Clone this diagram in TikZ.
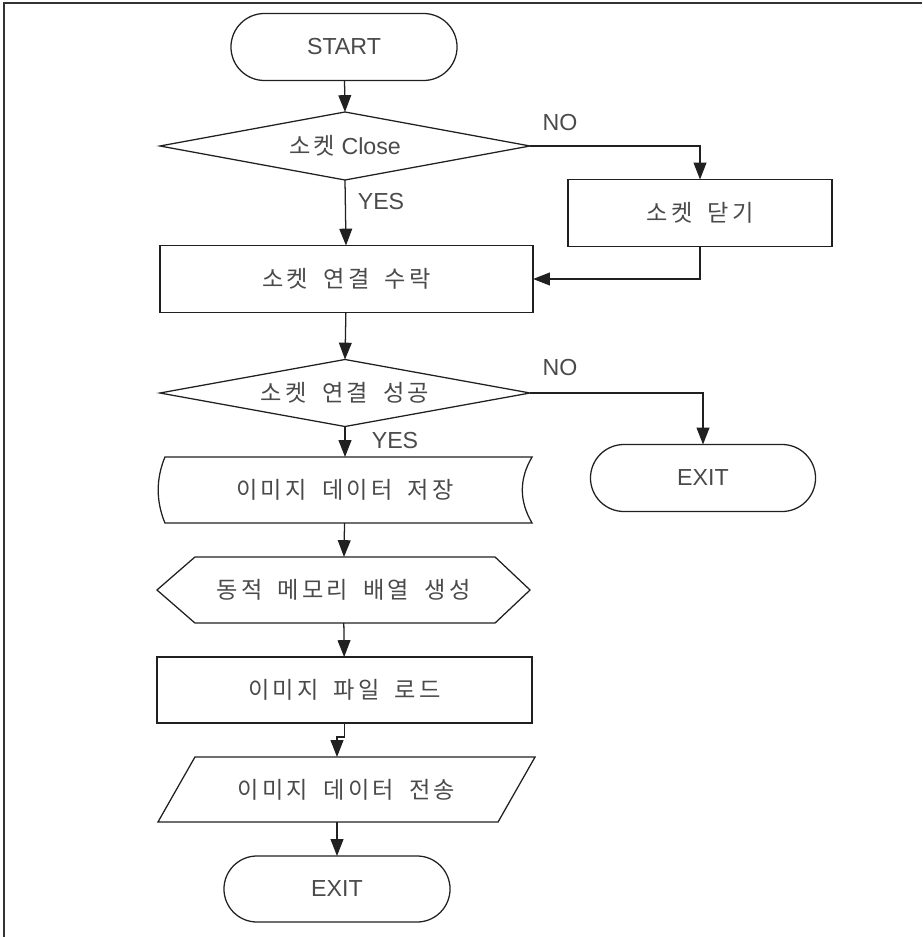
\documentclass[tikz,border=0pt]{standalone}
\usepackage{fontspec}
\setmainfont{Liberation Sans}
\newfontfamily\kr[LetterSpace=14,WordSpace=1.8]{Noto Sans CJK KR}
\usetikzlibrary{arrows.meta,shapes.misc,calc}
\definecolor{txt}{HTML}{4A4A4A}
\definecolor{edge}{HTML}{202020}
\tikzset{
  base/.style={inner sep=0pt, outer sep=0pt, text=txt,
    font=\fontsize{16.5}{20}\selectfont, line width=0.9pt, draw=edge},
  terminal/.style={base, rounded rectangle, minimum width=5.65cm, minimum height=1.675cm},
  process/.style={base, rectangle, minimum height=1.675cm},
  outline/.style={base, rectangle, draw=none},
  frame/.style={line width=1.1pt, draw=black!80},
  lbl/.style={text=txt, font=\fontsize{16.5}{20}\selectfont, inner sep=0pt},
  arr/.style={line width=0.9pt, draw=edge, -{Triangle[length=0.42cm,width=0.32cm]}},
  ln/.style={line width=0.9pt, draw=edge}
}
\begin{document}
\begin{tikzpicture}[x=0.025cm,y=-0.025cm]
\useasboundingbox (0,0) rectangle (922,937);
% page frame (left and top edges)
\draw[frame] (4,937) -- (4,3) -- (922,3);

% nodes
\node[terminal] (start) at (344,47) {START};
\node[outline, minimum width=9.25cm, minimum height=1.7cm] (d1) at (345,146) {{\kr 소켓}\ Close};
\node[process, minimum width=6.6cm] (close) at (700,213) {\kr 소켓 닫기};
\node[process, minimum width=9.325cm] (accept) at (346.5,279) {\kr 소켓 연결 수락};
\node[outline, minimum width=9.25cm, minimum height=1.675cm] (d2) at (345,393) {\kr 소켓 연결 성공};
\node[terminal, minimum width=5.625cm] (exitA) at (703,478) {EXIT};
\node[outline, minimum width=9.35cm, minimum height=1.65cm] (store) at (345,490) {\kr 이미지 데이터 저장};
\node[outline, minimum width=9.325cm, minimum height=1.65cm] (prep) at (343.5,590) {\kr 동적 메모리 배열 생성};
\node[process, minimum width=9.375cm, minimum height=1.65cm] (load) at (344.5,690) {\kr 이미지 파일 로드};
\node[outline, minimum width=9.425cm, minimum height=1.625cm] (send) at (346.5,789.5) {\kr 이미지 데이터 전송};
\node[terminal, minimum height=1.65cm] (exitB) at (337,889) {EXIT};

% decision outlines
\draw[ln] (d1.west) -- (d1.north) -- (d1.east) -- (d1.south) -- cycle;
\draw[ln] (d2.west) -- (d2.north) -- (d2.east) -- (d2.south) -- cycle;
% stored-data outline
\draw[ln] ($(store.north west)+(7,0)$) -- (store.north east)
  .. controls ($(store.north east)+(-13,22)$) and ($(store.south east)+(-13,-22)$) .. (store.south east)
  -- ($(store.south west)+(7,0)$)
  .. controls ($(store.south west)+(-2,-22)$) and ($(store.north west)+(-2,22)$) .. ($(store.north west)+(7,0)$) -- cycle;
% preparation (hexagon) outline
\draw[ln] (prep.west) -- ($(prep.north west)+(38,0)$) -- ($(prep.north east)+(-35,0)$)
  -- (prep.east) -- ($(prep.south east)+(-35,0)$) -- ($(prep.south west)+(38,0)$) -- cycle;
% input/output (parallelogram) outline
\draw[ln] ($(send.north west)+(37,0)$) -- (send.north east)
  -- ($(send.south east)+(-37,0)$) -- (send.south west) -- cycle;

% connectors
\draw[arr] (start) -- (d1.north);
\draw[arr] (d1.south) -- (accept);
\draw[arr] (d1.east) -| (close.north);
\draw[arr] (close.south) |- (accept.east);
\draw[arr] (accept) -- (d2.north);
\draw[arr] (d2.east) -| (exitA.north);
\draw[arr] (d2.south) -- (store);
\draw[arr] (store) -- (prep);
\draw[arr] (prep) -- (load);
\draw[arr] (load.south) -- ++(0,14) -| (send.north -| exitB.north);
\draw[arr] (send.south -| exitB.north) -- (exitB.north);

% branch labels
\node[lbl] (no1) at (560,123) {NO};
\node[lbl] (yes1) at (381,202) {YES};
\node[lbl] (no2) at (560,368) {NO};
\node[lbl] (yes2) at (395,441) {YES};
\end{tikzpicture}
\end{document}
